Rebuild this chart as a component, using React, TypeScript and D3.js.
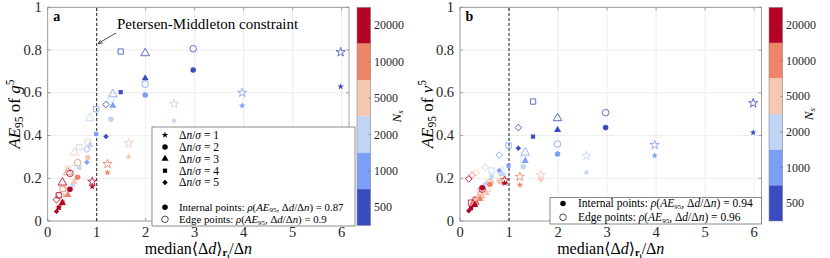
import React from "react";
import * as d3 from "d3";

// N_s bins (rows) and Δn/σ (columns)
const nsLabels = ["500", "1000", "2000", "5000", "10000", "20000"];
const nsColors = ["#3b4cc0", "#7b9ff9", "#c0d4f5", "#f6c8b2", "#ee8468", "#b40426"];
const ratios = [1, 2, 3, 4, 5];

// median <Δd>/Δn for each N_s row, Δn/σ = 1..5
const xVals: number[][] = [
  [5.98, 2.97, 1.99, 1.49, 1.19],
  [3.97, 1.99, 1.33, 0.99, 0.8],
  [2.58, 1.29, 0.86, 0.645, 0.51],
  [1.65, 0.82, 0.54, 0.41, 0.33],
  [1.22, 0.61, 0.41, 0.305, 0.245],
  [0.91, 0.455, 0.3, 0.225, 0.18],
];

// panel a: AE95 of g^5
const gInternal: number[][] = [
  [0.629, 0.707, 0.668, 0.603, 0.395],
  [0.54, 0.59, 0.539, 0.407, 0.275],
  [0.47, 0.476, 0.356, 0.25, 0.168],
  [0.3, 0.297, 0.184, 0.15, 0.12],
  [0.226, 0.205, 0.122, 0.09, 0.07],
  [0.161, 0.148, 0.085, 0.062, 0.045],
];
const gEdge: number[][] = [
  [0.79, 0.806, 0.785, 0.793, 0.545],
  [0.6, 0.64, 0.593, 0.523, 0.336],
  [0.548, 0.57, 0.481, 0.345, 0.247],
  [0.364, 0.369, 0.32, 0.245, 0.17],
  [0.267, 0.273, 0.228, 0.15, 0.12],
  [0.184, 0.223, 0.18, 0.12, 0.1],
];

// panel b: AE95 of v^5
const vInternal: number[][] = [
  [0.414, 0.437, 0.426, 0.395, 0.34],
  [0.306, 0.314, 0.281, 0.259, 0.236],
  [0.228, 0.254, 0.22, 0.208, 0.173],
  [0.192, 0.185, 0.13, 0.115, 0.1],
  [0.169, 0.172, 0.103, 0.085, 0.07],
  [0.177, 0.156, 0.075, 0.06, 0.048],
];
const vEdge: number[][] = [
  [0.551, 0.507, 0.481, 0.559, 0.437],
  [0.356, 0.36, 0.32, 0.353, 0.309],
  [0.305, 0.29, 0.23, 0.236, 0.25],
  [0.215, 0.19, 0.15, 0.14, 0.226],
  [0.207, 0.18, 0.12, 0.1, 0.215],
  [0.19, 0.149, 0.09, 0.086, 0.197],
];

const xTicks = [0, 1, 2, 3, 4, 5, 6];
const yTicks = [0, 0.2, 0.4, 0.6, 0.8, 1];
const rhoA = ["0.87", "0.9"];
const rhoB = ["0.94", "0.96"];

const FONT = "Liberation Serif, Times New Roman, DejaVu Serif, serif";
const symTypes = [d3.symbolStar, d3.symbolCircle, d3.symbolTriangle, d3.symbolSquare, d3.symbolSquare];
const fillSize = [14, 24, 22, 18, 15];
const edgeSize = [26, 34, 32, 28, 22];

const symPath = (k: number, size: number) => d3.symbol().type(symTypes[k]).size(size)() || "";

const Marker: React.FC<{ k: number; x: number; y: number; color: string; open: boolean }> = ({ k, x, y, color, open }) => (
  <path
    d={symPath(k, open ? edgeSize[k] : fillSize[k])}
    transform={`translate(${x},${y})${k === 4 ? " rotate(45)" : ""}`}
    fill={open ? "none" : color}
    stroke={open ? color : "none"}
    strokeWidth={0.8}
  />
);

const RhoText: React.FC<{ label: string; val: string }> = ({ label, val }) => (
  <>
    {label}: <tspan fontStyle="italic">ρ</tspan>(<tspan fontStyle="italic">AE</tspan>
    <tspan fontSize="7" dy="1.5">95</tspan>
    <tspan dy="-1.5">, Δ</tspan>
    <tspan fontStyle="italic">d</tspan>/Δ<tspan fontStyle="italic">n</tspan>) = {val}
  </>
);

interface PanelProps {
  x0: number;
  x1: number;
  letter: string;
  internal: number[][];
  edge: number[][];
  varName: string;
  cbX: number;
  cbBottom: number;
  rho: string[];
  full: boolean;
}

const Panel: React.FC<PanelProps> = ({ x0, x1, letter, internal, edge, varName, cbX, cbBottom, rho, full }) => {
  const top = 7.3;
  const bottom = 221;
  const xs = d3.scaleLinear().domain([0, 6.15]).range([x0, x1]);
  const ys = d3.scaleLinear().domain([0, 1]).range([bottom, top]);
  const cb = d3.scaleBand<string>().domain([...nsLabels].reverse()).range([top, cbBottom]).padding(0);
  const axisCol = "#8c8c8c";

  return (
    <g style={{ fontFamily: FONT }}>
      {/* grid */}
      {xTicks.map((t) => (
        <line key={"gx" + t} x1={xs(t)} x2={xs(t)} y1={top} y2={bottom} stroke="#e8e8e8" strokeWidth={0.8} />
      ))}
      {yTicks.map((t) => (
        <line key={"gy" + t} x1={x0} x2={x1} y1={ys(t)} y2={ys(t)} stroke="#e8e8e8" strokeWidth={0.8} />
      ))}
      {/* ticks */}
      {xTicks.map((t) => (
        <g key={"tx" + t}>
          <line x1={xs(t)} x2={xs(t)} y1={bottom} y2={bottom - 3} stroke={axisCol} strokeWidth={0.8} />
          <line x1={xs(t)} x2={xs(t)} y1={top} y2={top + 3} stroke={axisCol} strokeWidth={0.8} />
          <text x={xs(t)} y={bottom + 16} fontSize={14.5} textAnchor="middle" fill="#262626">
            {t}
          </text>
        </g>
      ))}
      {yTicks.map((t) => (
        <g key={"ty" + t}>
          <line x1={x0} x2={x0 + 3} y1={ys(t)} y2={ys(t)} stroke={axisCol} strokeWidth={0.8} />
          <line x1={x1} x2={x1 - 3} y1={ys(t)} y2={ys(t)} stroke={axisCol} strokeWidth={0.8} />
          <text x={x0 - 6} y={ys(t) + 4.5} fontSize={14.5} textAnchor="end" fill="#262626">
            {t}
          </text>
        </g>
      ))}
      <rect x={x0} y={top} width={x1 - x0} height={bottom - top} fill="none" stroke={axisCol} strokeWidth={0.8} />

      {/* constraint line */}
      <line x1={xs(1)} x2={xs(1)} y1={ys(0)} y2={ys(1)} stroke="#222" strokeWidth={1} strokeDasharray="3,2" />

      {/* data */}
      {nsLabels.map((ns, i) =>
        ratios.map((r, k) => (
          <Marker key={`e${ns}-${r}`} k={k} x={xs(xVals[i][k])} y={ys(edge[i][k])} color={nsColors[i]} open={true} />
        ))
      )}
      {nsLabels.map((ns, i) =>
        ratios.map((r, k) => (
          <Marker key={`i${ns}-${r}`} k={k} x={xs(xVals[i][k])} y={ys(internal[i][k])} color={nsColors[i]} open={false} />
        ))
      )}

      <text x={x0 + 5.5} y={top + 14} fontSize={14} fontWeight="bold">
        {letter}
      </text>

      {/* y label */}
      <text transform={`translate(${x0 - 27.5},${(top + bottom) / 2}) rotate(-90)`} fontSize={17} textAnchor="middle">
        <tspan fontStyle="italic">AE</tspan>
        <tspan fontSize="11.5" dy="3">95</tspan>
        <tspan dy="-3"> of </tspan>
        <tspan fontStyle="italic">{varName}</tspan>
        <tspan fontSize="11.5" dy="-6.5">5</tspan>
      </text>

      {/* x label */}
      <text x={(x0 + x1) / 2} y={253.5} fontSize={16} textAnchor="middle">
        median⟨Δ<tspan fontStyle="italic">d</tspan>⟩
        <tspan fontSize="10.5" fontWeight="bold" dy="2.5">r</tspan>
        <tspan fontSize="7" fontWeight="bold" dy="1.5">i</tspan>
        <tspan dy="-4">/Δ</tspan>
        <tspan fontStyle="italic">n</tspan>
      </text>

      {/* legend */}
      {full ? (
        <g>
          <rect x={152} y={127} width={203} height={99} fill="white" stroke="#6e6e6e" strokeWidth={0.8} />
          {ratios.map((r, k) => {
            const yy = 135 + k * 11.9;
            return (
              <g key={"lg" + r}>
                <path d={symPath(k, fillSize[k])} transform={`translate(165,${yy})${k === 4 ? " rotate(45)" : ""}`} fill="#000" />
                <text x={179} y={yy + 3.8} fontSize={11.5}>
                  Δ<tspan fontStyle="italic">n</tspan>/<tspan fontStyle="italic">σ</tspan> = {r}
                </text>
              </g>
            );
          })}
          <path d={symPath(1, fillSize[1])} transform="translate(165,207.3)" fill="#000" />
          <text x={179} y={210.8} fontSize={10.8}>
            <RhoText label="Internal points" val={rho[0]} />
          </text>
          <path d={symPath(1, edgeSize[1])} transform="translate(165,219.3)" fill="none" stroke="#000" strokeWidth={0.7} />
          <text x={179} y={223} fontSize={10.8}>
            <RhoText label="Edge points" val={rho[1]} />
          </text>
        </g>
      ) : (
        <g>
          <rect x={550} y={197.5} width={x1 - 550} height={26.5} fill="white" stroke="#6e6e6e" strokeWidth={0.8} />
          <path d={symPath(1, fillSize[1])} transform="translate(563,203.5)" fill="#000" />
          <text x={578} y={207.3} fontSize={11.5}>
            <RhoText label="Internal points" val={rho[0]} />
          </text>
          <path d={symPath(1, edgeSize[1])} transform="translate(563,217.3)" fill="none" stroke="#000" strokeWidth={0.7} />
          <text x={578} y={221} fontSize={11.5}>
            <RhoText label="Edge points" val={rho[1]} />
          </text>
        </g>
      )}

      {/* colorbar */}
      {[...nsLabels].reverse().map((ns) => {
        const i = nsLabels.indexOf(ns);
        const yy = cb(ns) || 0;
        return (
          <g key={"cb" + ns}>
            <rect x={cbX} y={yy} width={13.7} height={cb.bandwidth()} fill={nsColors[i]} />
            <line x1={cbX + 13.7} x2={cbX + 11.5} y1={yy + cb.bandwidth() / 2} y2={yy + cb.bandwidth() / 2} stroke="#666" strokeWidth={0.7} />
            <text x={cbX + 17} y={yy + cb.bandwidth() / 2 + 4} fontSize={12} fill="#262626">
              {ns}
            </text>
          </g>
        );
      })}
      <rect x={cbX} y={top} width={13.7} height={cbBottom - top} fill="none" stroke="#8c8c8c" strokeWidth={0.6} />
      <text transform={`translate(${cbX + 44},${(top + cbBottom) / 2}) rotate(-90)`} fontSize={13} textAnchor="middle">
        <tspan fontStyle="italic">N</tspan>
        <tspan fontStyle="italic" fontSize="9" dy="2">s</tspan>
      </text>
    </g>
  );
};

const App: React.FC = () => {
  const xa = d3.scaleLinear().domain([0, 6.15]).range([47.7, 349]);
  return (
    <svg width={830} height={258} style={{ position: "absolute", left: 0, top: 0, background: "white" }}>
      <Panel x0={47.7} x1={349} letter="a" internal={gInternal} edge={gEdge} varName="g" cbX={357} cbBottom={225.5} rho={rhoA} full={true} />
      <Panel x0={460} x1={761.5} letter="b" internal={vInternal} edge={vEdge} varName="v" cbX={769} cbBottom={221} rho={rhoB} full={false} />
      {/* annotation */}
      <text x={117} y={29} fontSize={15} style={{ fontFamily: FONT }}>
        Petersen-Middleton constraint
      </text>
      <defs>
        <marker id="ah" viewBox="0 0 10 10" refX="9" refY="5" markerWidth="6" markerHeight="6" orient="auto">
          <path d="M0,1 L10,5 L0,9" fill="none" stroke="#222" strokeWidth={1.4} />
        </marker>
      </defs>
      <line x1={116} y1={33} x2={xa(1) + 1.5} y2={43.5} stroke="#222" strokeWidth={0.8} markerEnd="url(#ah)" />
    </svg>
  );
};

export default App;
